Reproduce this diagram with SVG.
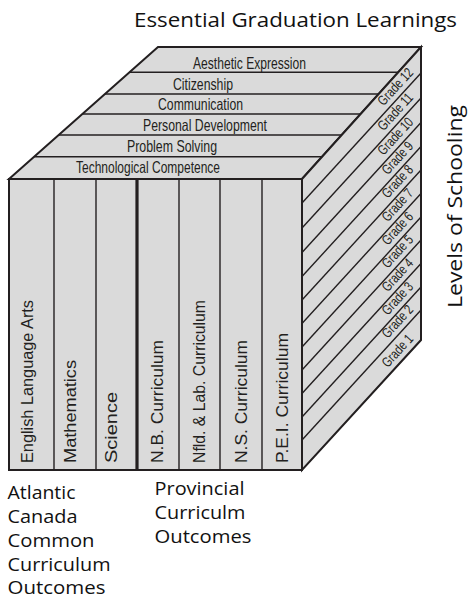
<svg xmlns="http://www.w3.org/2000/svg" width="469" height="598" viewBox="0 0 469 598">
<style>
.face{fill:#dadada;stroke:#231f20;stroke-width:2;stroke-linejoin:miter}
.ln{stroke:#231f20;stroke-width:1.4;fill:none}
.thick{stroke:#231f20;stroke-width:3.2;fill:none}
.lbl{font-family:'Liberation Sans Narrow','Liberation Sans',Arial,sans-serif;font-size:16.5px;fill:#231f20}
.gr{font-family:'Liberation Sans Narrow','Liberation Sans',Arial,sans-serif;font-size:14px;fill:#231f20}
.big{font-family:'Open Sans','Noto Sans',sans-serif;fill:#111}
.cap{font-size:19px}
</style>
<rect width="469" height="598" fill="#ffffff"/>

<g id="title"><text class="big" x="134" y="27" font-size="20.5" textLength="323" lengthAdjust="spacingAndGlyphs">Essential Graduation Learnings</text></g>
<g id="levels-title"><text class="big" font-size="20.5" transform="translate(462,308) rotate(-90)" textLength="203" lengthAdjust="spacingAndGlyphs">Levels of Schooling</text></g>

<g id="top-face">
<polygon class="face" points="9,179 158,47 421,47 302,179"/>
</g>
<g id="right-face">
<polygon class="face" points="302,179 421,47 421,340 302,470"/>
</g>
<g id="front-face">
<rect class="face" x="9" y="179" width="293" height="291"/>
</g>

<g id="connectors">
<line class="ln" x1="129.4" y1="72.3" x2="398.2" y2="72.3"/>
<line class="ln" x1="104.9" y1="94" x2="378.6" y2="94"/>
<line class="ln" x1="82.4" y1="114" x2="360.6" y2="114"/>
<line class="ln" x1="58.7" y1="135" x2="341.7" y2="135"/>
<line class="ln" x1="34.2" y1="156.7" x2="322.1" y2="156.7"/>
<line class="ln" x1="54" y1="179" x2="54" y2="470"/>
<line class="ln" x1="96" y1="179" x2="96" y2="470"/>
<line class="thick" x1="137" y1="179" x2="137" y2="470"/>
<line class="ln" x1="179" y1="179" x2="179" y2="470"/>
<line class="ln" x1="220" y1="179" x2="220" y2="470"/>
<line class="ln" x1="262" y1="179" x2="262" y2="470"/>
<line class="ln" x1="302" y1="203" x2="421" y2="73"/>
<line class="ln" x1="302" y1="228" x2="421" y2="98"/>
<line class="ln" x1="302" y1="252.5" x2="421" y2="122.5"/>
<line class="ln" x1="302" y1="276.5" x2="421" y2="146.5"/>
<line class="ln" x1="302" y1="300" x2="421" y2="170"/>
<line class="ln" x1="302" y1="323.5" x2="421" y2="193.5"/>
<line class="ln" x1="302" y1="347" x2="421" y2="217"/>
<line class="ln" x1="302" y1="370" x2="421" y2="240"/>
<line class="ln" x1="302" y1="393.5" x2="421" y2="263.5"/>
<line class="ln" x1="302" y1="417" x2="421" y2="287"/>
<line class="ln" x1="302" y1="440" x2="421" y2="310"/>
</g>

<g id="band-aesthetic"><text class="lbl" x="249.5" y="68.5" text-anchor="middle" textLength="113" lengthAdjust="spacingAndGlyphs">Aesthetic Expression</text></g>
<g id="band-citizenship"><text class="lbl" x="203" y="89.5" text-anchor="middle" textLength="60" lengthAdjust="spacingAndGlyphs">Citizenship</text></g>
<g id="band-communication"><text class="lbl" x="200.5" y="110" text-anchor="middle" textLength="85" lengthAdjust="spacingAndGlyphs">Communication</text></g>
<g id="band-personal"><text class="lbl" x="205" y="130.7" text-anchor="middle" textLength="124" lengthAdjust="spacingAndGlyphs">Personal Development</text></g>
<g id="band-problem"><text class="lbl" x="172" y="151.5" text-anchor="middle" textLength="90" lengthAdjust="spacingAndGlyphs">Problem Solving</text></g>
<g id="band-tech"><text class="lbl" x="148" y="172.5" text-anchor="middle" textLength="144" lengthAdjust="spacingAndGlyphs">Technological Competence</text></g>

<g id="col-english"><text class="lbl" transform="translate(33,463) rotate(-90)" textLength="163" lengthAdjust="spacingAndGlyphs">English Language Arts</text></g>
<g id="col-math"><text class="lbl" transform="translate(75.5,463) rotate(-90)" textLength="103" lengthAdjust="spacingAndGlyphs">Mathematics</text></g>
<g id="col-science"><text class="lbl" transform="translate(117,463) rotate(-90)" textLength="71" lengthAdjust="spacingAndGlyphs">Science</text></g>
<g id="col-nb"><text class="lbl" transform="translate(163,463) rotate(-90)" textLength="123" lengthAdjust="spacingAndGlyphs">N.B. Curriculum</text></g>
<g id="col-nfld"><text class="lbl" transform="translate(205,463) rotate(-90)" textLength="163" lengthAdjust="spacingAndGlyphs">Nfld. &amp; Lab. Curriculum</text></g>
<g id="col-ns"><text class="lbl" transform="translate(246.5,463) rotate(-90)" textLength="123" lengthAdjust="spacingAndGlyphs">N.S. Curriculum</text></g>
<g id="col-pei"><text class="lbl" transform="translate(288,463) rotate(-90)" textLength="130" lengthAdjust="spacingAndGlyphs">P.E.I. Curriculum</text></g>

<g id="grade-12"><text class="gr" text-anchor="end" transform="translate(414,73.2) rotate(-47.5)" textLength="45" lengthAdjust="spacingAndGlyphs">Grade 12</text></g>
<g id="grade-11"><text class="gr" text-anchor="end" transform="translate(414,98.2) rotate(-47.5)" textLength="45" lengthAdjust="spacingAndGlyphs">Grade 11</text></g>
<g id="grade-10"><text class="gr" text-anchor="end" transform="translate(414,122.7) rotate(-47.5)" textLength="45" lengthAdjust="spacingAndGlyphs">Grade 10</text></g>
<g id="grade-9"><text class="gr" text-anchor="end" transform="translate(414,146.7) rotate(-47.5)" textLength="39" lengthAdjust="spacingAndGlyphs">Grade 9</text></g>
<g id="grade-8"><text class="gr" text-anchor="end" transform="translate(414,170.2) rotate(-47.5)" textLength="39" lengthAdjust="spacingAndGlyphs">Grade 8</text></g>
<g id="grade-7"><text class="gr" text-anchor="end" transform="translate(414,193.7) rotate(-47.5)" textLength="39" lengthAdjust="spacingAndGlyphs">Grade 7</text></g>
<g id="grade-6"><text class="gr" text-anchor="end" transform="translate(414,217.2) rotate(-47.5)" textLength="39" lengthAdjust="spacingAndGlyphs">Grade 6</text></g>
<g id="grade-5"><text class="gr" text-anchor="end" transform="translate(414,240.2) rotate(-47.5)" textLength="39" lengthAdjust="spacingAndGlyphs">Grade 5</text></g>
<g id="grade-4"><text class="gr" text-anchor="end" transform="translate(414,263.7) rotate(-47.5)" textLength="39" lengthAdjust="spacingAndGlyphs">Grade 4</text></g>
<g id="grade-3"><text class="gr" text-anchor="end" transform="translate(414,287.2) rotate(-47.5)" textLength="39" lengthAdjust="spacingAndGlyphs">Grade 3</text></g>
<g id="grade-2"><text class="gr" text-anchor="end" transform="translate(414,310.2) rotate(-47.5)" textLength="39" lengthAdjust="spacingAndGlyphs">Grade 2</text></g>
<g id="grade-1"><text class="gr" text-anchor="end" transform="translate(414,339.5) rotate(-47.5)" textLength="39" lengthAdjust="spacingAndGlyphs">Grade 1</text></g>

<g id="label-atlantic">
<text class="big cap" x="7.5" y="499" textLength="68" lengthAdjust="spacingAndGlyphs">Atlantic</text>
<text class="big cap" x="7.5" y="523" textLength="70" lengthAdjust="spacingAndGlyphs">Canada</text>
<text class="big cap" x="7.5" y="547" textLength="87" lengthAdjust="spacingAndGlyphs">Common</text>
<text class="big cap" x="7.5" y="571" textLength="103" lengthAdjust="spacingAndGlyphs">Curriculum</text>
<text class="big cap" x="7.5" y="593.5" textLength="98" lengthAdjust="spacingAndGlyphs">Outcomes</text>
</g>
<g id="label-provincial">
<text class="big cap" x="154.5" y="495" textLength="90" lengthAdjust="spacingAndGlyphs">Provincial</text>
<text class="big cap" x="154.5" y="519" textLength="91" lengthAdjust="spacingAndGlyphs">Curriculm</text>
<text class="big cap" x="154.5" y="542.5" textLength="97" lengthAdjust="spacingAndGlyphs">Outcomes</text>
</g>
</svg>
